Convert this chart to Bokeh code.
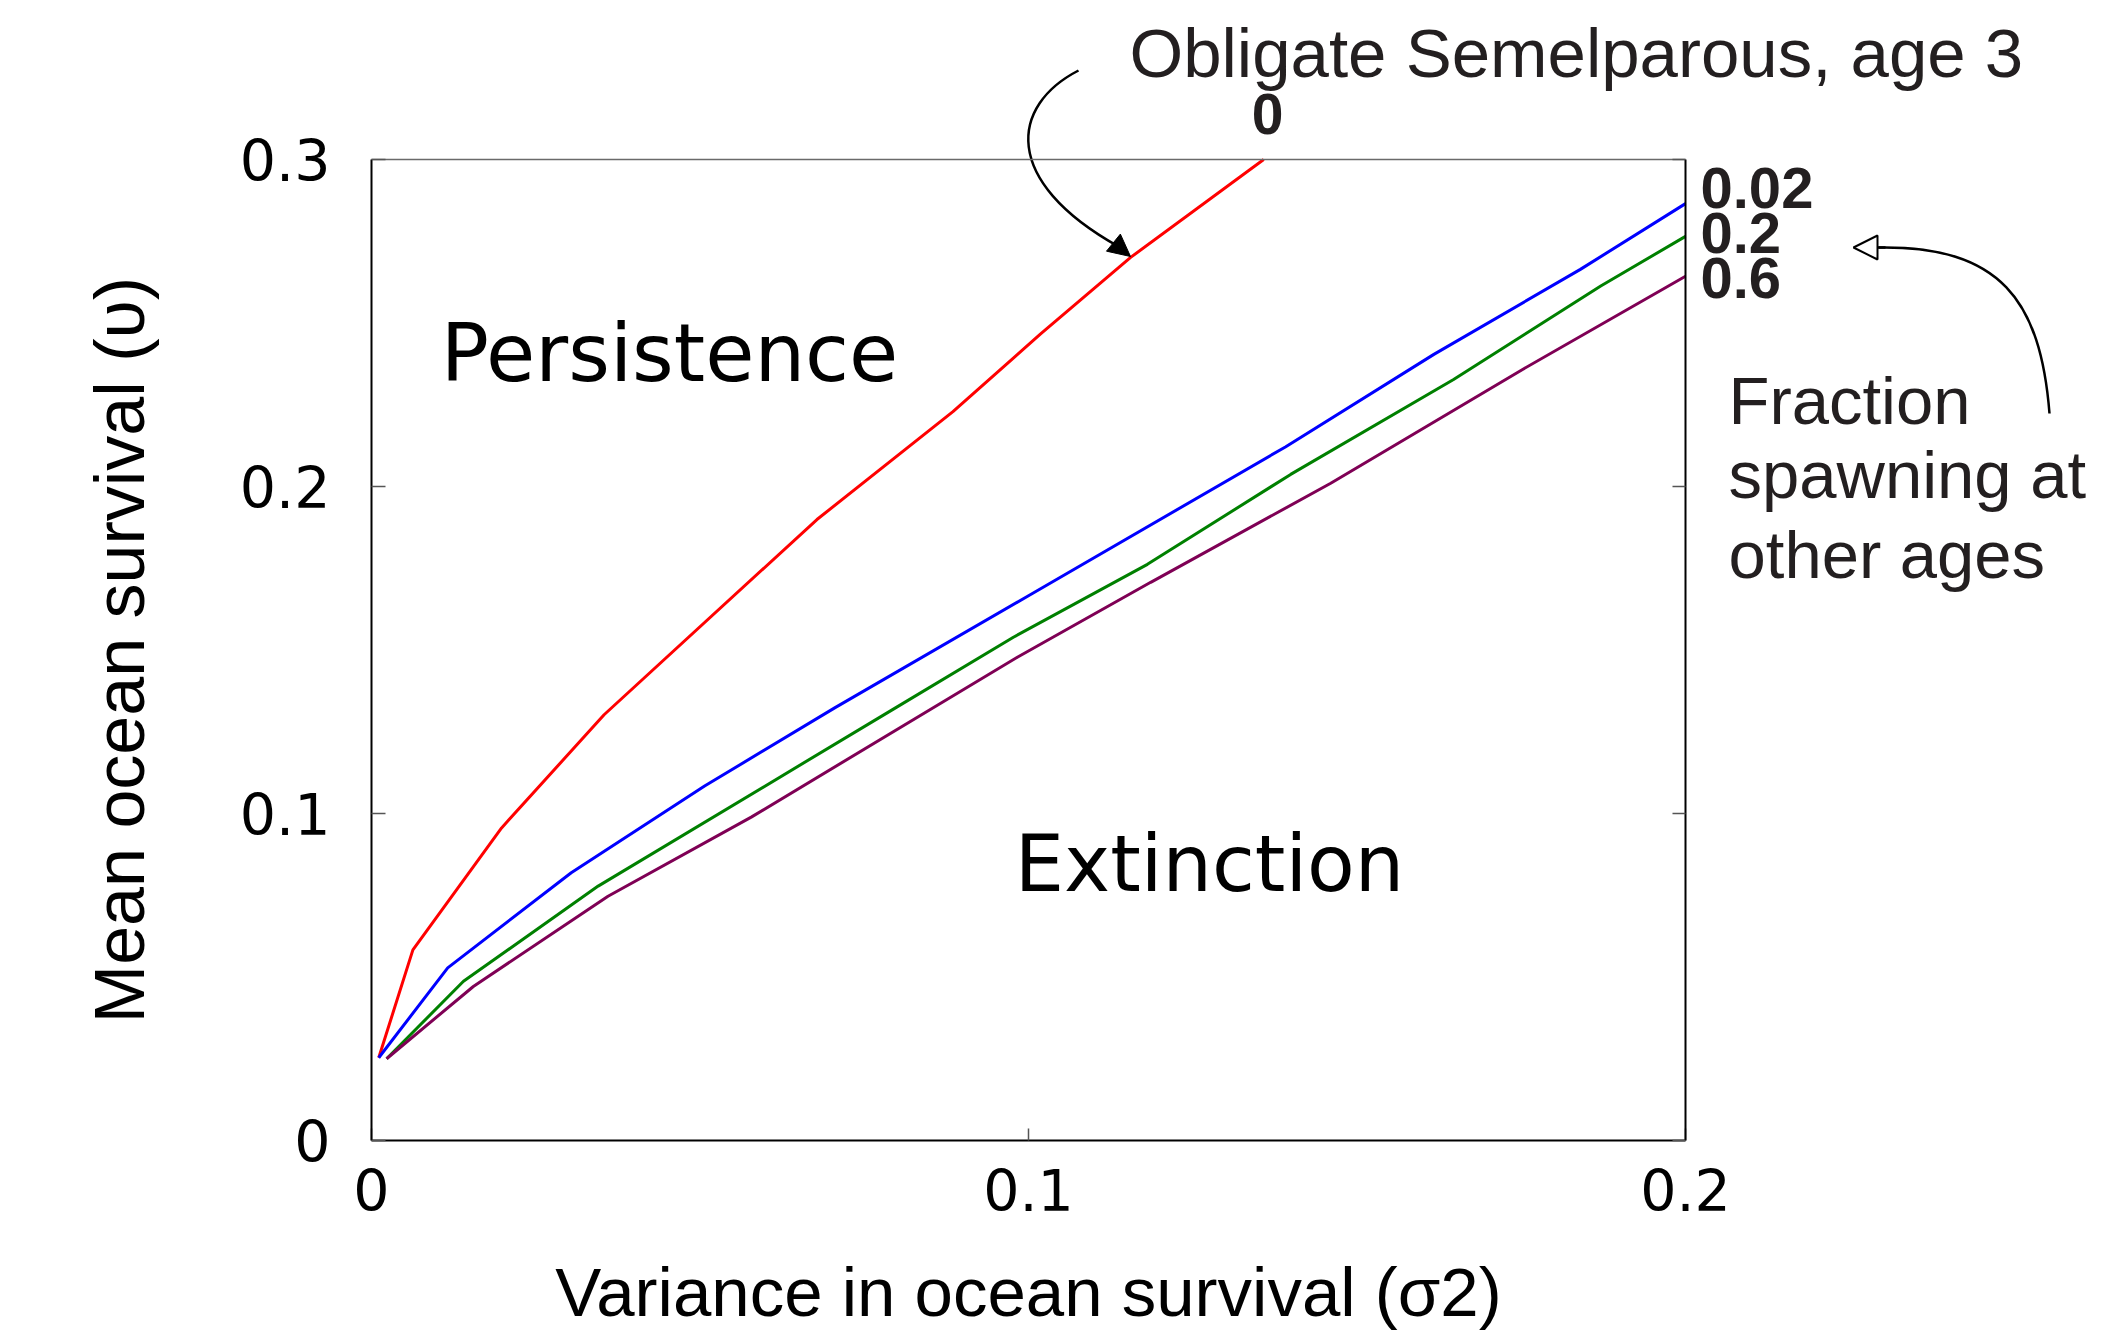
import numpy as np
from bokeh.plotting import figure
from bokeh.models import (Range1d, LinearAxis, FixedTicker, CustomJSTickFormatter, Label,
                          Arrow, NormalHead)
from bokeh.embed import file_html
from bokeh.resources import INLINE

# ---------------- data ----------------
fractions = ["0", "0.02", "0.2", "0.6"]

red_x = [0.0011, 0.0063, 0.0198, 0.0354, 0.0678, 0.0885, 0.1018, 0.1155, 0.1358]
red_y = [0.0253, 0.0583, 0.0956, 0.1302, 0.1899, 0.2229, 0.2466, 0.2700, 0.3000]

blue_x = [0.0011, 0.0116, 0.0304, 0.0507, 0.0705, 0.1000, 0.1391, 0.1617, 0.1840, 0.2000]
blue_y = [0.0253, 0.0528, 0.0819, 0.1084, 0.1323, 0.1666, 0.2121, 0.2404, 0.2664, 0.2865]

green_x = [0.0023, 0.0140, 0.0345, 0.0795, 0.0977, 0.1181, 0.1399, 0.1647, 0.1871, 0.2000]
green_y = [0.0250, 0.0487, 0.0778, 0.1320, 0.1539, 0.1762, 0.2037, 0.2327, 0.2613, 0.2765]

purple_x = [0.0023, 0.0155, 0.0360, 0.0578, 0.0983, 0.1186, 0.1460, 0.1752, 0.2000]
purple_y = [0.0250, 0.0471, 0.0747, 0.0989, 0.1478, 0.1707, 0.2010, 0.2358, 0.2643]

x_ticks = [0, 0.1, 0.2]
x_tick_labels = ["0", "0.1", "0.2"]
y_ticks = [0, 0.1, 0.2, 0.3]
y_tick_labels = ["0", "0.1", "0.2", "0.3"]
x_lim = (0, 0.2)
y_lim = (0, 0.3)

# ---------------- geometry: plot box position on the canvas ----------------
W, H = 2100, 1335
BOX_L, BOX_R, BOX_T, BOX_B = 371, 1685, 159, 1140
sx = (BOX_R - BOX_L) / (x_lim[1] - x_lim[0])
sy = (BOX_B - BOX_T) / (y_lim[1] - y_lim[0])
x_start = x_lim[0] - BOX_L / sx
y_end = y_lim[0] + BOX_B / sy

def dx(xp):
    return x_start + xp / sx

def dy(yp):
    return y_end - yp / sy

def base(yp, fs):
    # baseline position (canvas px) -> label anchor in data units
    return dy(yp - 0.345 * fs)

p = figure(width=W, height=H, output_backend="svg", toolbar_location=None,
           x_range=Range1d(x_start, x_start + W / sx),
           y_range=Range1d(y_end - H / sy, y_end),
           min_border=0, min_border_left=0, min_border_right=0,
           min_border_top=0, min_border_bottom=0,
           x_axis_label="Variance in ocean survival (σ2)",
           y_axis_label="Mean ocean survival (υ)")
p.xgrid.visible = False
p.ygrid.visible = False
p.outline_line_color = None
p.background_fill_color = "white"
p.border_fill_color = "white"

xa = p.xaxis[0]
ya = p.yaxis[0]
xa.fixed_location = y_lim[0]
ya.fixed_location = x_lim[0]
xa.bounds = x_lim
ya.bounds = y_lim
xa.ticker = FixedTicker(ticks=x_ticks)
ya.ticker = FixedTicker(ticks=y_ticks)
xa.major_label_overrides = dict(zip(x_ticks, x_tick_labels))
ya.major_label_overrides = dict(zip(y_ticks, y_tick_labels))

for ax in (xa, ya):
    ax.major_tick_out = 0
    ax.minor_tick_line_color = None
    ax.axis_line_color = "black"
    ax.axis_line_width = 2
    ax.major_tick_line_color = "#555555"
    ax.major_tick_line_width = 1.5
    ax.major_label_text_font = "DejaVu Sans"
    ax.major_label_text_font_size = "57px"
    ax.major_label_text_color = "black"
    ax.axis_label_text_font = "Liberation Sans"
    ax.axis_label_text_font_style = "normal"
    ax.axis_label_text_color = "black"

ya.major_tick_in = 14
xa.major_tick_in = 12
ya.major_label_standoff = 41
xa.major_label_standoff = 28
ya.axis_label_text_font_size = "70px"
xa.axis_label_text_font_size = "69px"
ya.axis_label_standoff = 78
xa.axis_label_standoff = 40

# right side of the box: ticks only
ra = LinearAxis(ticker=FixedTicker(ticks=y_ticks),
                formatter=CustomJSTickFormatter(code="return '';"),
                fixed_location=x_lim[1], bounds=y_lim)
ra.major_tick_in = 13
ra.major_tick_out = 0
ra.minor_tick_line_color = None
ra.axis_line_color = "black"
ra.axis_line_width = 2
ra.major_tick_line_color = "#555555"
ra.major_tick_line_width = 1.5
ra.major_label_standoff = 0
p.add_layout(ra, "right")

# top side of the box: plain line
ta = LinearAxis(ticker=FixedTicker(ticks=[]),
                formatter=CustomJSTickFormatter(code="return '';"),
                fixed_location=y_lim[1], bounds=x_lim)
ta.major_tick_line_color = None
ta.minor_tick_line_color = None
ta.axis_line_color = "#6a6a6a"
ta.axis_line_width = 1.5
p.add_layout(ta, "above")

# ---------------- lines ----------------
p.line(red_x, red_y, line_color="#ff0000", line_width=3)
p.line(blue_x, blue_y, line_color="#0000ff", line_width=3)
p.line(green_x, green_y, line_color="#008000", line_width=3)
p.line(purple_x, purple_y, line_color="#7f0055", line_width=3)

# ---------------- annotations ----------------
INK = "#231f20"

p.add_layout(Label(x=dx(669), y=base(381, 80), text="Persistence", text_font="DejaVu Sans",
                   text_font_size="80px", text_color="black", text_align="center",
                   text_baseline="alphabetic"))
p.add_layout(Label(x=dx(1209), y=base(890, 78), text="Extinction", text_font="DejaVu Sans",
                   text_font_size="78px", text_color="black", text_align="center",
                   text_baseline="alphabetic"))
p.add_layout(Label(x=dx(1129), y=base(77, 69), text="Obligate Semelparous, age 3",
                   text_font="Liberation Sans", text_font_size="69px", text_color=INK,
                   text_baseline="alphabetic"))

p.add_layout(Label(x=dx(1267), y=base(133, 57), text=fractions[0], text_font="Liberation Sans",
                   text_font_style="bold", text_font_size="57px", text_color=INK,
                   text_align="center", text_baseline="alphabetic"))
for txt, bl in zip(fractions[1:], (208, 253, 298)):
    p.add_layout(Label(x=dx(1700), y=base(bl, 58), text=txt, text_font="Liberation Sans",
                       text_font_style="bold", text_font_size="58px", text_color=INK,
                       text_baseline="alphabetic"))

for txt, bl in zip(["Fraction", "spawning at", "other ages"], (423, 497, 577)):
    p.add_layout(Label(x=dx(1728), y=base(bl, 67), text=txt, text_font="Liberation Sans",
                       text_font_size="67px", text_color=INK, text_baseline="alphabetic"))

# curved arrow pointing at the obligate-semelparous curve
p.bezier(x0=[dx(1078)], y0=[dy(70)], x1=[dx(1118)], y1=[dy(246)],
         cx0=[dx(1010)], cy0=[dy(105)], cx1=[dx(1000)], cy1=[dy(180)],
         line_color="black", line_width=2.5)
p.add_layout(Arrow(x_start=dx(1114), y_start=dy(243), x_end=dx(1130), y_end=dy(256),
                   line_color="black", line_width=2.5,
                   end=NormalHead(size=22, fill_color="black", line_color="black", line_width=1)))

# curved arrow pointing at the fraction labels
p.bezier(x0=[dx(2049)], y0=[dy(413)], x1=[dx(1878)], y1=[dy(247)],
         cx0=[dx(2040)], cy0=[dy(300)], cx1=[dx(2000)], cy1=[dy(245)],
         line_color="black", line_width=2.5)
p.add_layout(Arrow(x_start=dx(1885), y_start=dy(247), x_end=dx(1853), y_end=dy(247),
                   line_color="black", line_width=2.5,
                   end=NormalHead(size=24, fill_color="white", line_color="black", line_width=2)))

open("out.html", "w").write(file_html(p, INLINE))
